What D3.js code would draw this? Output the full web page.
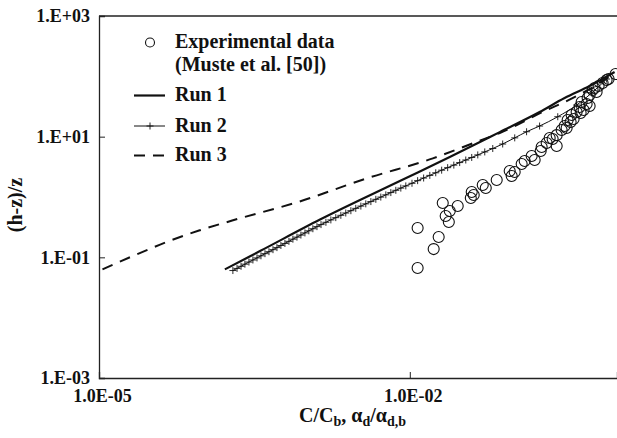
<!DOCTYPE html>
<html>
<head>
<meta charset="utf-8">
<script src="https://cdn.jsdelivr.net/npm/d3@7"></script>
<style>
  body { margin: 0; background: #fff; }
  svg text { font-family: "Liberation Serif", "Times New Roman", serif; font-weight: bold; fill: #111; }
</style>
</head>
<body>
<svg id="chart" width="617" height="438"></svg>
<script>
// Data

const xTicks = [1e-5, 1e-2];
const xTickLabels = ["1.0E-05", "1.0E-02"];
const yTicks = [1e-3, 1e-1, 1e1, 1e3];
const yTickLabels = ["1.E-03", "1.E-01", "1.E+01", "1.E+03"];

// Experimental data (Muste et al. [50])
const expX = [0.0119, 0.0119, 0.0170, 0.0190, 0.0208, 0.0222, 0.0238, 0.0243, 0.0290, 0.0388,
  0.0396, 0.0414, 0.0506, 0.0541, 0.0690, 0.0921, 0.0963, 0.1029, 0.1202, 0.1285,
  0.1501, 0.1604, 0.1833, 0.1874, 0.2095, 0.2239, 0.2393, 0.2616, 0.2616, 0.2922,
  0.3123, 0.3265, 0.3339, 0.3568, 0.3648, 0.3814, 0.4077, 0.4358, 0.4456, 0.4556,
  0.4763, 0.5090, 0.5205, 0.5441, 0.5441, 0.5815, 0.6079, 0.6355, 0.6645, 0.7264,
  0.7937, 0.8295, 0.969];
const expY = [0.0665, 0.306, 0.137, 0.217, 0.794, 0.484, 0.385, 0.585, 0.708, 0.961,
  1.21, 1.08, 1.58, 1.41, 1.91, 2.69, 2.23, 2.59, 3.52, 3.95,
  4.78, 4.10, 5.78, 6.73, 7.84, 9.49, 9.14, 10.6, 7.0, 12.9,
  15.0, 13.9, 18.9, 17.5, 22.8, 19.6, 25.6, 31.0, 24.7, 37.5,
  27.6, 34.8, 43.7, 49.0, 32.2, 59.3, 64.0, 54.9, 69.1, 77.5,
  86.9, 90.2, 109.2];

// Run 1
const run1X = [1.64e-4, 3.58e-4, 1.36e-3, 8.01e-3, 2.43e-2, 7.38e-2, 0.179, 0.312, 0.544, 0.948];
const run1Y = [0.0632, 0.127, 0.423, 1.84, 4.60, 11.9, 25.6, 43.7, 69.1, 117.8];

// Run 2
const run2X = [1.96e-4, 2.15e-4, 2.35e-4, 2.56e-4, 2.80e-4, 3.06e-4, 3.35e-4, 3.66e-4, 4.00e-4, 4.37e-4,
  4.78e-4, 5.22e-4, 5.70e-4, 6.23e-4, 6.81e-4, 7.44e-4, 8.14e-4, 8.89e-4, 9.72e-4, 1.06e-3,
  1.16e-3, 1.27e-3, 1.39e-3, 1.55e-3, 1.73e-3, 1.93e-3, 2.16e-3, 2.41e-3, 2.70e-3, 3.01e-3,
  3.37e-3, 3.76e-3, 4.21e-3, 4.70e-3, 5.25e-3, 5.87e-3, 6.56e-3, 7.33e-3, 8.19e-3, 9.15e-3,
  1.05e-2, 1.19e-2, 1.36e-2, 1.56e-2, 1.78e-2, 2.03e-2, 2.32e-2, 2.66e-2, 3.03e-2, 3.47e-2,
  3.96e-2, 4.53e-2, 5.29e-2, 6.32e-2, 7.88e-2, 0.103, 0.134, 0.179, 0.268, 0.408,
  0.569, 0.794];
const run2Y = [0.0604, 0.0655, 0.0710, 0.0770, 0.0835, 0.0904, 0.0978, 0.106, 0.115, 0.124,
  0.134, 0.145, 0.157, 0.170, 0.184, 0.200, 0.216, 0.234, 0.254, 0.275,
  0.298, 0.323, 0.349, 0.381, 0.417, 0.455, 0.497, 0.543, 0.593, 0.648,
  0.707, 0.770, 0.840, 0.915, 0.997, 1.086, 1.184, 1.290, 1.405, 1.527,
  1.688, 1.866, 2.063, 2.280, 2.520, 2.783, 3.066, 3.378, 3.721, 4.100,
  4.519, 4.985, 5.585, 6.362, 7.557, 9.550, 12.07, 15.01, 21.40, 33.44,
  52.88, 90.2];

// Run 3
const run3X = [1.08e-5, 2.23e-5, 4.41e-5, 9.23e-5, 1.93e-4, 8.50e-4, 3.85e-3, 1.67e-2, 4.05e-2, 7.38e-2, 0.2095, 0.312, 0.544, 0.948];
const run3Y = [0.0632, 0.109, 0.177, 0.278, 0.407, 0.835, 2.04, 4.37, 7.75, 11.5, 27.6, 37.5, 61.6, 113.4];

const legendItems = ["Run 1", "Run 2", "Run 3"];

// Layout

const margin = {top: 16, right: 0, bottom: 60, left: 99};
const width = 617, height = 438;

const svg = d3.select('#chart');

const x = d3.scaleLog().domain([1e-5, 1]).range([margin.left, width - margin.right]);
const y = d3.scaleLog().domain([1e-3, 1e3]).range([height - margin.bottom, margin.top]);

const zip = (xs, ys) => xs.map((d, i) => ({x: d, y: ys[i]}));

const line = d3.line()
  .curve(d3.curveMonotoneX)
  .x(d => x(d.x))
  .y(d => y(d.y));

// frame: top border
svg.append('line')
  .attr('x1', margin.left).attr('x2', width)
  .attr('y1', margin.top).attr('y2', margin.top)
  .attr('stroke', '#222').attr('stroke-width', 1.3);

// axes
const yAxis = svg.append('g')
  .attr('transform', 'translate(' + margin.left + ',0)')
  .call(d3.axisLeft(y)
    .tickValues(yTicks)
    .tickFormat((d, i) => yTickLabels[i])
    .tickSize(-6)
    .tickPadding(9));

const xAxis = svg.append('g')
  .attr('transform', 'translate(0,' + (height - margin.bottom) + ')')
  .call(d3.axisBottom(x)
    .tickValues(xTicks)
    .tickFormat((d, i) => xTickLabels[i])
    .tickSize(-6)
    .tickPadding(11));

[xAxis, yAxis].forEach(ax => {
  ax.select('.domain').attr('stroke', '#222').attr('stroke-width', 1.3);
  ax.selectAll('.tick line').attr('stroke', '#222').attr('stroke-width', 1);
  ax.selectAll('.tick text')
    .attr('fill', '#111')
    .style('font-family', '"Liberation Serif", serif')
    .style('font-weight', 'bold')
    .style('font-size', '18px');
});
xAxis.selectAll('.tick text').attr('dx', 3);

// axis titles
const xt = svg.append('text')
  .attr('x', 299).attr('y', 422)
  .style('font-size', '20px');
xt.append('tspan').text('C/C');
xt.append('tspan').attr('dy', 4).style('font-size', '14px').text('b');
xt.append('tspan').attr('dy', -4).text(', \u03b1');
xt.append('tspan').attr('dy', 4).style('font-size', '14px').text('d');
xt.append('tspan').attr('dy', -4).text('/\u03b1');
xt.append('tspan').attr('dy', 4).style('font-size', '14px').text('d,b');

svg.append('text')
  .attr('transform', 'translate(22,205) rotate(-90)')
  .attr('text-anchor', 'middle')
  .style('font-size', '20px')
  .text('(h-z)/z');

// series
svg.append('path')
  .datum(zip(run3X, run3Y))
  .attr('d', line)
  .attr('fill', 'none')
  .attr('stroke', '#111')
  .attr('stroke-width', 2)
  .attr('stroke-dasharray', '11,8');

svg.append('path')
  .datum(zip(run2X, run2Y))
  .attr('d', line)
  .attr('fill', 'none')
  .attr('stroke', '#111')
  .attr('stroke-width', 1);

svg.append('g')
  .selectAll('path')
  .data(zip(run2X, run2Y))
  .join('path')
    .attr('transform', d => 'translate(' + x(d.x) + ',' + y(d.y) + ')')
    .attr('d', 'M-3.5,0H3.5M0,-3.5V3.5')
    .attr('stroke', '#111')
    .attr('stroke-width', 0.9);

svg.append('path')
  .datum(zip(run1X, run1Y))
  .attr('d', line)
  .attr('fill', 'none')
  .attr('stroke', '#111')
  .attr('stroke-width', 2.2);

svg.append('g')
  .selectAll('circle')
  .data(zip(expX, expY))
  .join('circle')
    .attr('cx', d => x(d.x))
    .attr('cy', d => y(d.y))
    .attr('r', 5.5)
    .attr('fill', 'none')
    .attr('stroke', '#111')
    .attr('stroke-width', 1.1);

// Legend

const lg = svg.append('g');
lg.append('circle')
  .attr('cx', 150).attr('cy', 42.5).attr('r', 4.5)
  .attr('fill', 'none').attr('stroke', '#111').attr('stroke-width', 1.1);
lg.append('text').attr('x', 175).attr('y', 48).style('font-size', '20px').text('Experimental data');
lg.append('text').attr('x', 175).attr('y', 71).style('font-size', '20px').text('(Muste et al. [50])');

const rowY = [95.5, 126, 155.5];
legendItems.forEach((name, i) => {
  const ln = lg.append('line')
    .attr('x1', 134).attr('x2', 165)
    .attr('y1', rowY[i]).attr('y2', rowY[i])
    .attr('stroke', '#111');
  if (i == 0) ln.attr('stroke-width', 2.2);
  if (i == 1) {
    ln.attr('stroke-width', 1);
    lg.append('path')
      .attr('transform', 'translate(150,' + rowY[i] + ')')
      .attr('d', 'M-3.5,0H3.5M0,-3.5V3.5')
      .attr('stroke', '#111').attr('stroke-width', 0.9);
  }
  if (i == 2) ln.attr('stroke-width', 2).attr('stroke-dasharray', '11,8');
  lg.append('text')
    .attr('x', 175).attr('y', rowY[i] + 5.5)
    .style('font-size', '20px')
    .text(name);
});
</script>
</body>
</html>
